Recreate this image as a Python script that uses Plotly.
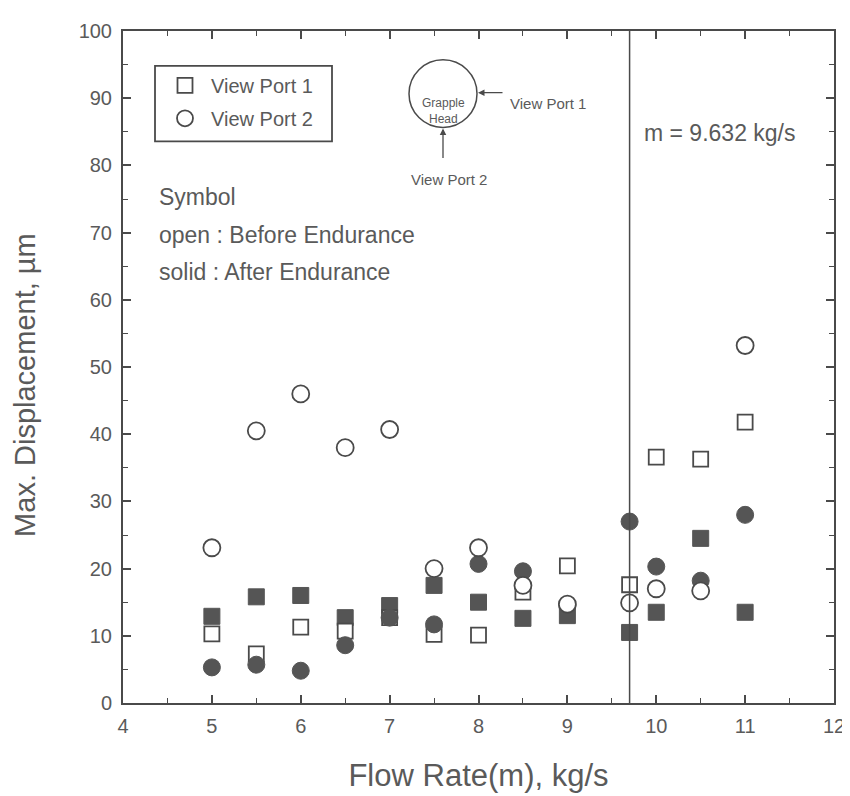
import plotly.graph_objects as go

# ---- data ----
flow_rate = [5, 5.5, 6, 6.5, 7, 7.5, 8, 8.5, 9, 9.7, 10, 10.5, 11]
vp1_before = [10.3, 7.3, 11.3, 10.7, 12.7, 10.2, 10.1, 16.5, 20.4, 17.6, 36.6, 36.3, 41.8]
vp2_before = [23.1, 40.5, 46.0, 38.0, 40.7, 20.0, 23.1, 17.5, 14.7, 14.9, 17.0, 16.7, 53.2]
vp1_after = [12.9, 15.8, 16.0, 12.7, 14.5, 17.5, 15.0, 12.6, 13.0, 10.5, 13.5, 24.5, 13.5]
vp2_after = [5.3, 5.7, 4.8, 8.6, 12.7, 11.7, 20.7, 19.6, 14.5, 27.0, 20.3, 18.2, 28.0]
design_flow = 9.7
design_label = "m = 9.632 kg/s"

INK = "#4a4a4a"
FILL = "#555555"
TXT = "#5a5a5a"
FONT = "Liberation Sans, Arial, sans-serif"

fig = go.Figure()
fig.add_trace(go.Scatter(x=flow_rate, y=vp1_after, mode="markers", showlegend=False,
                         marker=dict(symbol="square", size=16, color=FILL,
                                     line=dict(color=FILL, width=1))))
fig.add_trace(go.Scatter(x=flow_rate, y=vp1_before, mode="markers", name="View Port 1",
                         legendgroup="vp1",
                         marker=dict(symbol="square", size=15, color="white",
                                     line=dict(color=INK, width=1.8))))
fig.add_trace(go.Scatter(x=flow_rate, y=vp2_after, mode="markers", showlegend=False,
                         marker=dict(symbol="circle", size=17, color=FILL,
                                     line=dict(color=FILL, width=1))))
fig.add_trace(go.Scatter(x=flow_rate, y=vp2_before, mode="markers", name="View Port 2",
                         legendgroup="vp2",
                         marker=dict(symbol="circle", size=17, color="white",
                                     line=dict(color=INK, width=1.8))))

# design flow vertical line
fig.add_shape(type="line", xref="x", yref="y", x0=design_flow, x1=design_flow, y0=0, y1=100,
              line=dict(color=INK, width=1.5))

axis_common = dict(showgrid=False, zeroline=False, showline=True, linecolor=INK, linewidth=2,
                   mirror="allticks", ticks="inside", ticklen=8, tickwidth=1.5, tickcolor=INK,
                   tickfont=dict(family=FONT, size=20, color=TXT))

fig.update_xaxes(range=[4, 12], dtick=1, tick0=4,
                 minor=dict(ticks="inside", dtick=0.5, ticklen=5, tickwidth=1.2, tickcolor=INK),
                 title=dict(text="Flow Rate(m), kg/s", font=dict(family=FONT, size=31, color=TXT),
                            standoff=28),
                 ticklabelstandoff=4,
                 **axis_common)
fig.update_yaxes(range=[0, 100], dtick=10, tick0=0,
                 minor=dict(ticks="inside", dtick=5, ticklen=5, tickwidth=1.2, tickcolor=INK),
                 ticklabelstandoff=5,
                 **axis_common)


def px(x):
    return (x - 123) / 711


def py(y):
    return (703 - y) / 676


annots = []
# y-axis title
annots.append(dict(text="Max. Displacement, µm", xref="paper", yref="paper", x=px(25), y=py(383),
                   textangle=-90, showarrow=False, xanchor="center", yanchor="middle",
                   font=dict(family=FONT, size=29, color=TXT)))

txt_font = dict(family=FONT, size=23, color=TXT)
for text, yy in [("Symbol", 194), ("open : Before Endurance", 232), ("solid : After Endurance", 269)]:
    annots.append(dict(text=text, xref="paper", yref="paper", x=px(157), y=py(yy),
                       xanchor="left", yanchor="middle", showarrow=False, font=txt_font))
annots.append(dict(text=design_label, xref="paper", yref="paper", x=px(642), y=py(130),
                   xanchor="left", yanchor="middle", showarrow=False, font=txt_font))

# legend frame
fig.add_shape(type="rect", xref="paper", yref="paper",
              x0=px(155), x1=px(332), y0=py(138), y1=py(62),
              line=dict(color=INK, width=1.8), fillcolor="rgba(0,0,0,0)", layer="above")

# Grapple head diagram
cx, cy, r = 443, 90, 34
fig.add_shape(type="circle", xref="paper", yref="paper",
              x0=px(cx - r), x1=px(cx + r), y0=py(cy + r), y1=py(cy - r),
              line=dict(color=INK, width=1.5))
annots.append(dict(text="Grapple<br>Head", xref="paper", yref="paper", x=px(cx), y=py(cy),
                   showarrow=False, font=dict(family=FONT, size=12, color=TXT), align="center"))
annots.append(dict(text="", xref="paper", yref="paper", axref="pixel", ayref="pixel",
                   x=px(cx + r + 1), y=py(89), ax=26, ay=0,
                   showarrow=True, arrowhead=2, arrowsize=1, arrowwidth=1.3, arrowcolor=INK))
annots.append(dict(text="View Port 1", xref="paper", yref="paper", x=px(508), y=py(89),
                   xanchor="left", showarrow=False, font=dict(family=FONT, size=15, color=TXT)))
annots.append(dict(text="", xref="paper", yref="paper", axref="pixel", ayref="pixel",
                   x=px(cx), y=py(cy + r + 1), ax=0, ay=31,
                   showarrow=True, arrowhead=2, arrowsize=1, arrowwidth=1.3, arrowcolor=INK))
annots.append(dict(text="View Port 2", xref="paper", yref="paper", x=px(449), y=py(166),
                   xanchor="center", showarrow=False, font=dict(family=FONT, size=15, color=TXT)))

fig.update_layout(
    width=850, height=796,
    margin=dict(l=115, r=24, t=19, b=101),
    paper_bgcolor="white", plot_bgcolor="white",
    font=dict(family=FONT, color=TXT),
    legend=dict(x=px(159), y=py(62), xanchor="left", yanchor="top",
                borderwidth=0, bgcolor="rgba(0,0,0,0)",
                font=dict(family=FONT, size=20, color=TXT),
                traceorder="grouped", tracegroupgap=4, itemwidth=42),
    annotations=annots,
)

fig.write_html("out.html")
